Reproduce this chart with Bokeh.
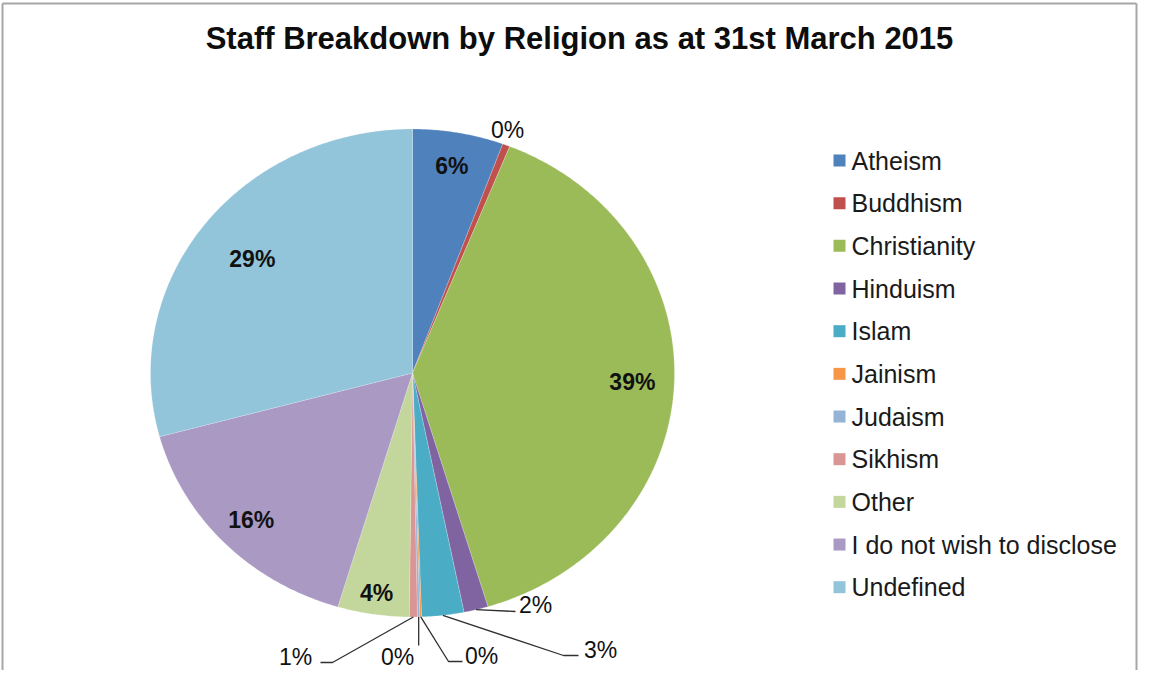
import math
import numpy as np
from bokeh.plotting import figure
from bokeh.models import Range1d
from bokeh.core.properties import value
from bokeh.embed import file_html
from bokeh.resources import INLINE

# ---------------- data ----------------
chart_title = "Staff Breakdown by Religion as at 31st March 2015"
religions = ["Atheism", "Buddhism", "Christianity", "Hinduism", "Islam", "Jainism",
             "Judaism", "Sikhism", "Other", "I do not wish to disclose", "Undefined"]
shares = [5.6, 0.45, 39.3, 1.5, 2.6, 0.1, 0.15, 0.5, 4.4, 16.2, 29.2]
colors = ["#4F81BD", "#C0504D", "#9BBB59", "#8064A2", "#4BACC6", "#F79646",
          "#95B3D7", "#D99694", "#C3D69B", "#A999C3", "#92C4DA"]

# ---------------- layout ----------------
W, H = 1138, 670
FONT = "Liberation Sans"
CX, CY, RX, RY = 412, 372.5, 262, 244

# inside labels: radial fraction of the slice mid-angle
inside_frac = {0: 0.86, 2: 0.84, 8: 0.91, 9: 0.86, 10: 0.77}
# outside labels: label position and leader elbow points
outside = {
    1: dict(pos=(507, 129), route=[]),
    3: dict(pos=(535, 604), route=[(515, 611)]),
    4: dict(pos=(600, 649), route=[(563, 655), (578, 655)]),
    5: dict(pos=(481, 655), route=[(448, 661), (462, 661)]),
    6: dict(pos=(397, 656), route=[("same", 645)]),
    7: dict(pos=(295, 656), route=[(332, 662), (320, 662)]),
}

p = figure(width=W, height=H, x_range=Range1d(0, W), y_range=Range1d(H, 0),
           output_backend="svg", toolbar_location=None, min_border=0)
p.axis.visible = False
p.grid.visible = False
p.outline_line_color = None
p.background_fill_color = "white"
p.border_fill_color = "white"

# chart border (left, top, right)
p.multi_line([[2, 2], [2, W - 2], [W - 2, W - 2]], [[H, 3], [3, 3], [3, H]],
             line_color="#A6A6A6", line_width=2)

total = float(sum(shares))
cum = np.concatenate([[0.0], np.cumsum(shares)]) / total * 2 * math.pi
xs, ys = [], []
mids = []
for i in range(len(shares)):
    a0, a1 = cum[i], cum[i + 1]
    n = max(3, int((a1 - a0) / (2 * math.pi) * 720) + 2)
    t = np.linspace(a0, a1, n)
    xs.append([CX] + list(CX + RX * np.sin(t)) + [CX])
    ys.append([CY] + list(CY - RY * np.cos(t)) + [CY])
    mids.append((a0 + a1) / 2)

p.patches(xs, ys, fill_color=colors, line_color="white", line_width=0.5, line_alpha=0.4)

pct_labels = [f"{int(math.floor(v * 100.0 / total + 0.5 + 1e-9))}%" for v in shares]

# inside labels
ix, iy, it = [], [], []
for i, f in inside_frac.items():
    a = mids[i]
    ix.append(CX + RX * f * math.sin(a))
    iy.append(CY - RY * f * math.cos(a))
    it.append(pct_labels[i])
p.text(x=ix, y=iy, text=it, text_font=value(FONT), text_font_size="23px",
       text_font_style="bold", text_color="#111111", text_align="center",
       text_baseline="middle")

# outside labels + leader lines
ox, oy, ot = [], [], []
lxs, lys = [], []
for i, spec in outside.items():
    a = mids[i]
    sx = CX + RX * math.sin(a)
    sy = CY - RY * math.cos(a)
    if spec["route"]:
        px, py = [sx], [sy]
        for (rx_, ry_) in spec["route"]:
            px.append(sx if rx_ == "same" else rx_)
            py.append(ry_)
        lxs.append(px)
        lys.append(py)
    ox.append(spec["pos"][0])
    oy.append(spec["pos"][1])
    ot.append(pct_labels[i])
p.multi_line(lxs, lys, line_color="#303030", line_width=1.3)
p.text(x=ox, y=oy, text=ot, text_font=value(FONT), text_font_size="23px",
       text_color="#111111", text_align="center", text_baseline="middle")

# title
p.text(x=[579], y=[38], text=[chart_title], text_font=value(FONT), text_font_size="31px",
       text_font_style="bold", text_color="#0d0d0d", text_align="center",
       text_baseline="middle")

# legend
ly = [160 + k * 42.67 for k in range(len(religions))]
p.scatter(x=[839] * len(religions), y=ly, marker="square", size=12,
          fill_color=colors, line_color=None)
p.text(x=[851] * len(religions), y=ly, text=religions, text_font=value(FONT),
       text_font_size="25px", text_color="#1a1a1a", text_align="left",
       text_baseline="middle")

open("out.html", "w").write(file_html(p, INLINE))
